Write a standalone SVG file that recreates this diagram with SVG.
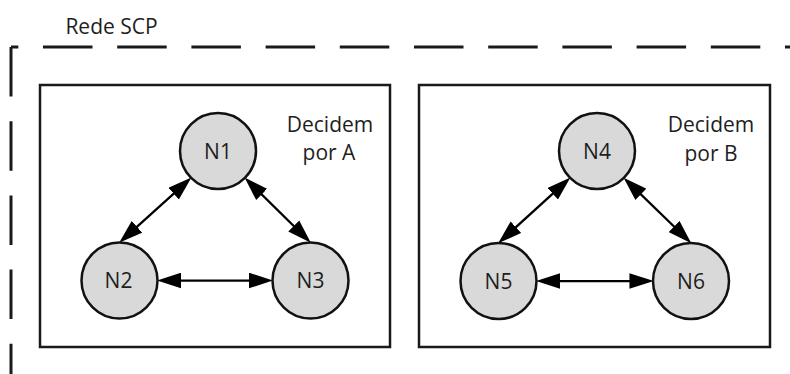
<svg xmlns="http://www.w3.org/2000/svg" width="790" height="374" viewBox="0 0 790 374">
  <style>
    .lbl { font-family: "Open Sans", "Liberation Sans", sans-serif; font-size: 21px; fill: #1e1e1e; }
    .mid { text-anchor: middle; }
    .frame { fill: none; stroke: #1a1a1a; stroke-width: 3; stroke-dasharray: 49.5 24.7; }
    .group { fill: #ffffff; stroke: #1a1a1a; stroke-width: 2.5; }
    .node circle { fill: #d9d9d9; stroke: #111111; stroke-width: 2.5; }
    .link { stroke: #000000; stroke-width: 2.25; fill: none; marker-start: url(#head); marker-end: url(#head); }
  </style>
  <defs>
    <marker id="head" markerUnits="userSpaceOnUse" markerWidth="24" markerHeight="16" viewBox="0 0 23 15" refX="13" refY="7.5" orient="auto-start-reverse">
      <path d="M0,0 L23,7.5 L0,15 z" fill="#000000"/>
    </marker>
  </defs>

  <!-- network boundary (dashed) -->
  <g id="network">
    <path class="frame" d="M11,47 H790" stroke-dashoffset="42.2"/>
    <path class="frame" d="M11,47 V374"/>
    <text class="lbl mid" x="111.5" y="34">Rede SCP</text>
  </g>

  <!-- group boxes -->
  <g id="groupA">
    <rect class="group" x="40" y="85" width="350" height="262"/>
    <text class="lbl mid" x="330" y="132">Decidem</text>
    <text class="lbl mid" x="329" y="160">por A</text>
  </g>
  <g id="groupB">
    <rect class="group" x="419" y="85" width="351" height="262"/>
    <text class="lbl mid" x="711" y="132">Decidem</text>
    <text class="lbl mid" x="711" y="161">por B</text>
  </g>

  <!-- connectors -->
  <g id="connectors">
    <line class="link" x1="183.7" y1="184.6" x2="126.9" y2="235.8"/>
    <line class="link" x1="252.0" y1="184.9" x2="303.4" y2="235.5"/>
    <line class="link" x1="167.5" y1="280.5" x2="262.5" y2="280.5"/>
    <line class="link" x1="562.7" y1="184.6" x2="505.9" y2="236.3"/>
    <line class="link" x1="631.1" y1="184.9" x2="683.8" y2="236.0"/>
    <line class="link" x1="546.5" y1="281" x2="643" y2="281"/>
  </g>

  <!-- nodes -->
  <g id="N1" class="node">
    <circle cx="218" cy="151" r="38"/>
    <text class="lbl mid" x="218" y="158.5">N1</text>
  </g>
  <g id="N2" class="node">
    <circle cx="119.5" cy="280.5" r="38"/>
    <text class="lbl mid" x="118.5" y="288">N2</text>
  </g>
  <g id="N3" class="node">
    <circle cx="310.5" cy="280.5" r="38"/>
    <text class="lbl mid" x="310.5" y="288">N3</text>
  </g>
  <g id="N4" class="node">
    <circle cx="597" cy="151" r="38"/>
    <text class="lbl mid" x="597" y="158.5">N4</text>
  </g>
  <g id="N5" class="node">
    <circle cx="498.5" cy="281" r="38"/>
    <text class="lbl mid" x="498.5" y="288.5">N5</text>
  </g>
  <g id="N6" class="node">
    <circle cx="691" cy="281" r="38"/>
    <text class="lbl mid" x="691" y="288.5">N6</text>
  </g>
</svg>
